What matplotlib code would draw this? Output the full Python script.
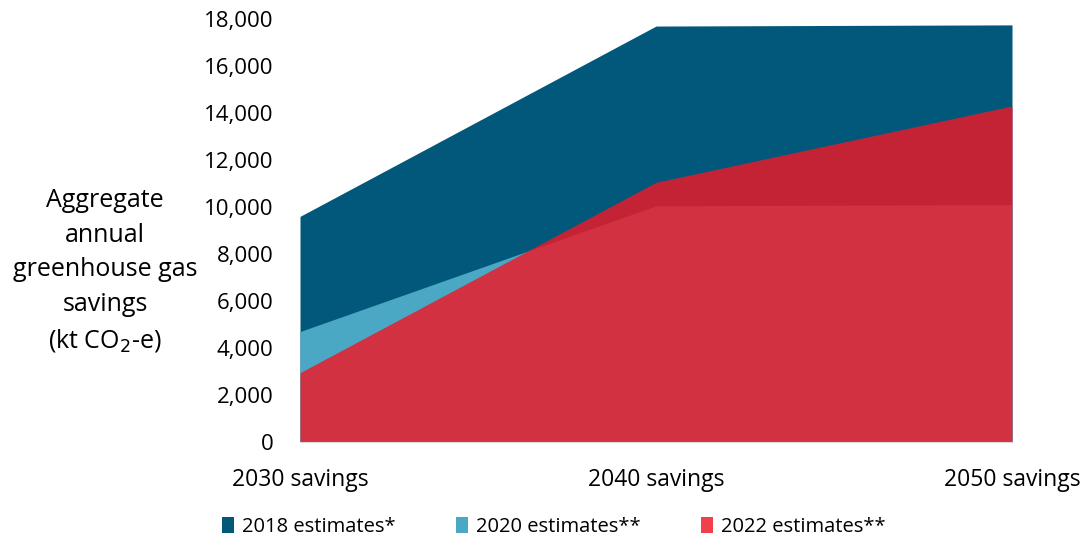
import matplotlib

matplotlib.use("Agg")
import matplotlib.pyplot as plt
from matplotlib.patches import Patch

plt.rcParams["font.family"] = ["Open Sans", "DejaVu Sans"]

categories = ["2030 savings", "2040 savings", "2050 savings"]
est_2018 = [9600, 17700, 17750]
est_2020 = [4700, 10050, 10100]
est_2022 = [2950, 11050, 14300]

series = [
    ("2018 estimates*", est_2018, "#02587a", 1.0),
    ("2020 estimates**", est_2020, "#4aa8c4", 1.0),
    ("2022 estimates**", est_2022, "#ed1927", 0.83),
]

fig = plt.figure(figsize=(10.89, 5.41), dpi=100)
ax = fig.add_axes([300 / 1089, 1 - 442 / 541, 712 / 1089, 423 / 541])

x = list(range(len(categories)))
handles = []
for name, values, color, alpha in series:
    ax.fill_between(x, 0, values, color=color, alpha=alpha, linewidth=0)
    handles.append(Patch(facecolor=color, alpha=alpha, edgecolor="none", label=name))

ax.set_xlim(0, len(categories) - 1)
ax.set_ylim(0, 18000)
ax.set_yticks(range(0, 18001, 2000))
ax.set_yticklabels([f"{v:,}" for v in range(0, 18001, 2000)])
ax.set_xticks(x)
ax.set_xticklabels(categories)
ax.tick_params(axis="y", length=0, pad=19, labelsize=16)
ax.tick_params(axis="x", length=0, pad=19, labelsize=16.5)
for spine in ("top", "right", "left"):
    ax.spines[spine].set_visible(False)
ax.spines["bottom"].set_color("#d9d9d9")
ax.spines["bottom"].set_linewidth(0.8)

fig.text(
    105 / 1089,
    1 - 271 / 541,
    "Aggregate\nannual\ngreenhouse gas\nsavings\n(kt CO$_2$-e)",
    ha="center",
    va="center",
    fontsize=18,
    linespacing=1.5,
)

fig.legend(
    handles=handles,
    loc="center",
    bbox_to_anchor=(554 / 1089, 1 - 527 / 541),
    ncol=3,
    frameon=False,
    fontsize=14.5,
    handlelength=0.6,
    handleheight=0.85,
    handletextpad=0.4,
    columnspacing=3.0,
)

fig.savefig("out.png", dpi=100)
